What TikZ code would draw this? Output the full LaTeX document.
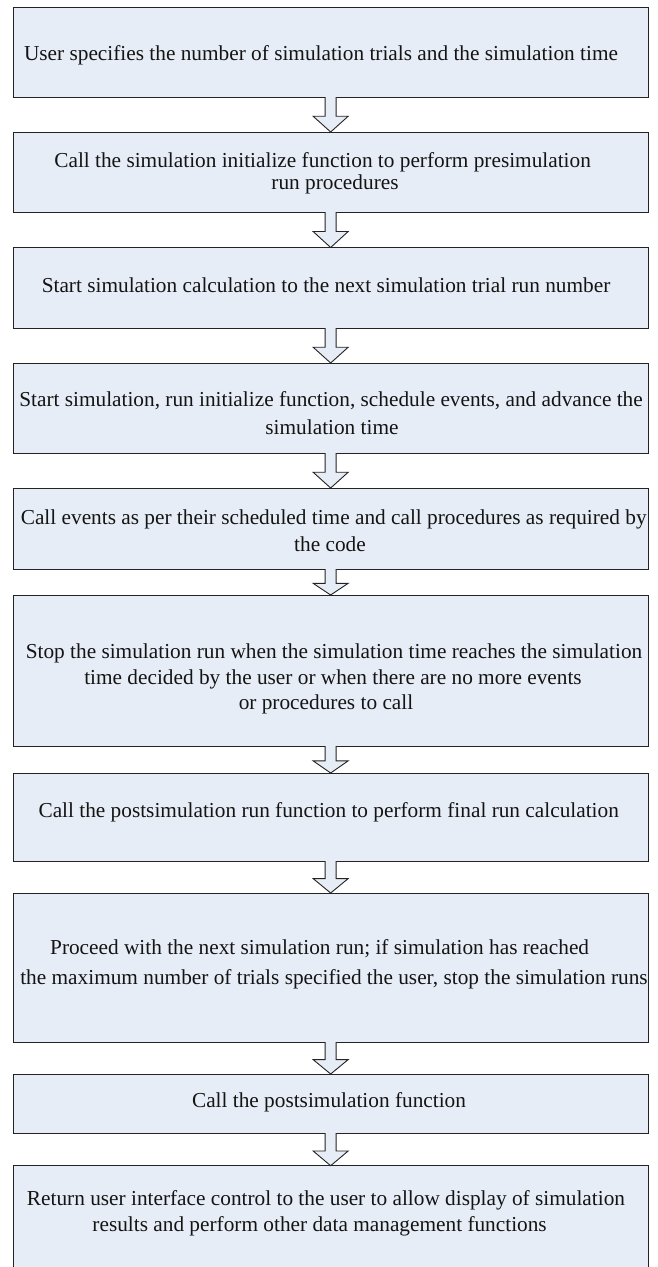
\documentclass[tikz,border=0pt]{standalone}
\usepackage{fontspec}
\setmainfont{Liberation Serif}
\usetikzlibrary{calc}
\definecolor{boxfill}{RGB}{231,237,246}
\definecolor{boxline}{RGB}{35,35,35}
\definecolor{txtcol}{RGB}{20,20,20}
\newcommand\flowarrow[2]{%
  \coordinate (hb) at ($(#2.north)!0.45!(#1.south)$);
  \filldraw[arrowshape]
    ($(#1.south)+(-5.5,0)$) -- ($(hb)+(-5.5,0)$) -- ($(hb)+(-17.5,0)$)
    -- (#2.north) -- ($(hb)+(17.5,0)$) -- ($(hb)+(5.5,0)$) -- ($(#1.south)+(5.5,0)$);
}
\begin{document}
\begin{tikzpicture}[x=1pt,y=-1pt,
  box/.style={draw=boxline,line width=1pt,fill=boxfill,inner sep=0pt,outer sep=0pt,minimum width=634.7pt},
  line/.style={anchor=base,inner sep=0pt,text=txtcol,font=\fontsize{21.3}{25}\selectfont},
  arrowshape/.style={draw=boxline,fill=boxfill,line width=0.9pt,line join=miter},
]
\useasboundingbox (0,0) rectangle (658,1267);
\fill[white] (0,0) rectangle (658,1267);
\clip (0,0) rectangle (658,1267);

% boxes
\node[box,minimum height=89.5pt] (b1) at (330.65,52.25) {};
\node[box,minimum height=80pt]   (b2) at (330.65,172) {};
\node[box,minimum height=80.5pt] (b3) at (330.65,287.75) {};
\node[box,minimum height=90pt]   (b4) at (330.65,408) {};
\node[box,minimum height=81pt]   (b5) at (330.65,528.5) {};
\node[box,minimum height=151pt]  (b6) at (330.65,670.5) {};
\node[box,minimum height=88pt]   (b7) at (330.65,817) {};
\node[box,minimum height=149pt]  (b8) at (330.65,967.5) {};
\node[box,minimum height=59pt]   (b9) at (330.65,1103.5) {};
\node[box,minimum height=124.3pt] (b10) at (330.65,1227.85) {};

% arrows
\flowarrow{b1}{b2}
\flowarrow{b2}{b3}
\flowarrow{b3}{b4}
\flowarrow{b4}{b5}
\flowarrow{b5}{b6}
\flowarrow{b6}{b7}
\flowarrow{b7}{b8}
\flowarrow{b8}{b9}
\flowarrow{b9}{b10}

% texts
\node[line] (t1) at (321,60.5) {User specifies the number of simulation trials and the simulation time};
\node[line] (t2a) at (322.6,167) {Call the simulation initialize function to perform presimulation};
\node[line] (t2b) at (335,189) {run procedures};
\node[line] (t3) at (326,292) {Start simulation calculation to the next simulation trial run number};
\node[line] (t4a) at (331,406.5) {Start simulation, run initialize function, schedule events, and advance the};
\node[line] (t4b) at (332,434.5) {simulation time};
\node[line] (t5a) at (333.7,524.5) {Call events as per their scheduled time and call procedures as required by};
\node[line] (t5b) at (330,551) {the code};
\node[line] (t6a) at (334,658) {Stop the simulation run when the simulation time reaches the simulation};
\node[line] (t6b) at (333,684) {time decided by the user or when there are no more events};
\node[line] (t6c) at (326,709) {or procedures to call};
\node[line] (t7) at (328.7,817) {Call the postsimulation run function to perform final run calculation};
\node[line] (t8a) at (319.6,954) {Proceed with the next simulation run; if simulation has reached};
\node[line] (t8b) at (334,984.5) {the maximum number of trials specified the user, stop the simulation runs};
\node[line] (t9) at (329,1107) {Call the postsimulation function};
\node[line] (t10a) at (326,1205) {Return user interface control to the user to allow display of simulation};
\node[line] (t10b) at (319.6,1231) {results and perform other data management functions};
\end{tikzpicture}
\end{document}
